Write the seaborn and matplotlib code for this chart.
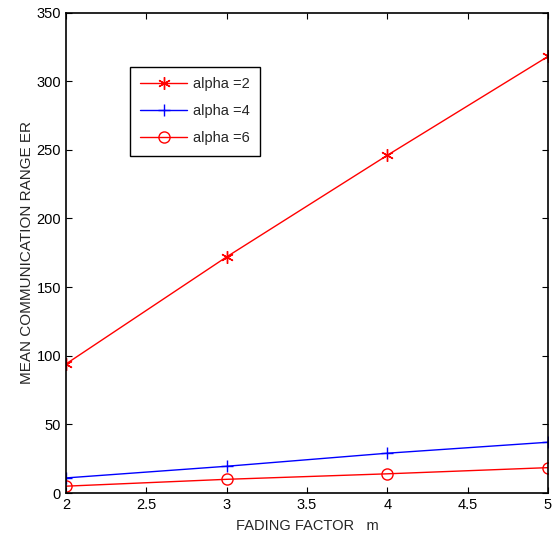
import pandas as pd
import matplotlib
matplotlib.use("Agg")
import matplotlib.pyplot as plt
import seaborn as sns

# --- data ---
fading_m = [2, 3, 4, 5]
alpha2 = [94, 172, 246, 318]
alpha4 = [11, 19.5, 29, 37]
alpha6 = [5, 10, 14, 18.5]

# asterisk marker like MATLAB's '*'
asterisk = (6, 2, 0)
series = [
    ("alpha =2", alpha2, "#ff0000", asterisk),
    ("alpha =4", alpha4, "#0000ff", "+"),
    ("alpha =6", alpha6, "#ff0000", "o"),
]

sns.set_style("ticks")
plt.rcParams['font.family'] = ['Liberation Sans', 'DejaVu Sans']
plt.rcParams['font.size'] = 10.5

fig = plt.figure(figsize=(5.54, 5.46), dpi=100)
ax = fig.add_axes([0.119, 0.097, 0.870, 0.880])

for label, vals, color, marker in series:
    df = pd.DataFrame({"m": fading_m, "er": vals})
    sns.lineplot(data=df, x="m", y="er", ax=ax, color=color, marker=marker,
                 markersize=9 if marker != "o" else 8, linewidth=1, label=label,
                 markerfacecolor="none" if marker == "o" else color,
                 markeredgecolor=color, markeredgewidth=1)

ax.set_xlim(2, 5)
ax.set_ylim(0, 350)
ax.set_xticks([2, 2.5, 3, 3.5, 4, 4.5, 5])
ax.set_xticklabels(["2", "2.5", "3", "3.5", "4", "4.5", "5"])
ax.set_yticks(range(0, 351, 50))
ax.tick_params(direction="in", top=True, right=True, length=4, width=0.8,
               labelsize=10.5, colors="black")
for s in ax.spines.values():
    s.set_visible(True)
    s.set_linewidth(1.2)
    s.set_color("black")

ax.set_xlabel("FADING FACTOR   m", fontsize=10.5, labelpad=5)
ax.set_ylabel("MEAN COMMUNICATION RANGE ER", fontsize=11, labelpad=2)

leg = ax.legend(loc="upper left", bbox_to_anchor=(0.133, 0.887), frameon=True,
                fancybox=False, edgecolor="black", framealpha=1, borderaxespad=0,
                fontsize=10.5, handlelength=3.2, borderpad=0.7, labelspacing=0.9,
                handletextpad=0.4)
leg.get_frame().set_linewidth(1.0)

fig.savefig("out.png", dpi=100)
